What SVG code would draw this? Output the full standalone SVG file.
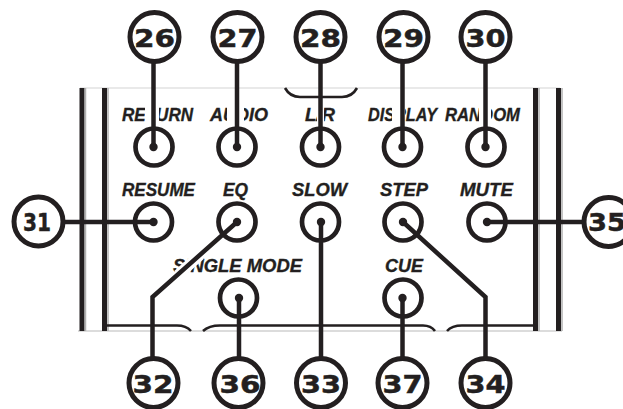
<svg xmlns="http://www.w3.org/2000/svg" width="623" height="409" viewBox="0 0 623 409">
<style>
.lbl{font-family:"Liberation Sans",Arial,sans-serif;font-weight:bold;font-style:italic;font-size:19px;fill:#231f20;stroke:#231f20;stroke-width:0.35}
.num{font-family:"DejaVu Sans","Liberation Sans",sans-serif;font-weight:bold;font-size:25px;fill:#231f20;stroke:#231f20;stroke-width:0.5}
.ring{fill:#fff;stroke:#231f20;stroke-width:5}
.btn{fill:#fff;stroke:#231f20;stroke-width:4.7}
.dot{fill:#231f20}
.con{fill:none;stroke:#231f20;stroke-width:4.5;stroke-linejoin:miter}
.frame{stroke:#231f20;stroke-width:5}
.shade{stroke:#b0b0b0;stroke-width:1.5}
.edge{fill:none;stroke:#231f20;stroke-width:2.6}
.halo{fill:#fff}
</style>
<rect width="623" height="409" fill="#fff"/>
<g id="panel">
<line x1="80" y1="88" x2="560" y2="88" stroke="#e2e2e2" stroke-width="1.5"/>
<line x1="78" y1="331" x2="562" y2="331" stroke="#d0d0d0" stroke-width="1.5"/>
<line class="frame" x1="82" y1="88" x2="82" y2="331"/>
<line class="frame" x1="104.5" y1="88" x2="104.5" y2="331"/>
<line class="frame" x1="535.5" y1="88" x2="535.5" y2="331"/>
<line class="frame" x1="558.5" y1="88" x2="558.5" y2="331"/>
<line class="shade" x1="85.5" y1="88" x2="85.5" y2="331"/>
<line class="shade" x1="108" y1="88" x2="108" y2="331"/>
<line class="shade" x1="539" y1="88" x2="539" y2="331"/>
<line class="shade" x1="562" y1="88" x2="562" y2="331"/>
<path class="edge" d="M285 88 Q290 97 300 97 H342 Q352 97 357 88"/>
<path class="edge" d="M104 325.5 H177 Q186 325.5 191 331 M203 331 Q209 325.5 220 325.5 H423 Q431 325.5 435 331 M447 331 Q452 325.5 462 325.5 H536"/>
</g>
<g id="labels">
<text class="lbl" x="122" y="120.5" textLength="71" lengthAdjust="spacingAndGlyphs">RETURN</text>
<text class="lbl" x="210" y="120.5" textLength="58" lengthAdjust="spacingAndGlyphs">AUDIO</text>
<text class="lbl" x="305" y="120.5" textLength="30" lengthAdjust="spacingAndGlyphs">L/R</text>
<text class="lbl" x="368" y="120.5" textLength="69" lengthAdjust="spacingAndGlyphs">DISPLAY</text>
<text class="lbl" x="445" y="120.5" textLength="75" lengthAdjust="spacingAndGlyphs">RANDOM</text>
<text class="lbl" x="122" y="195.5" textLength="73" lengthAdjust="spacingAndGlyphs">RESUME</text>
<text class="lbl" x="223" y="195.5" textLength="25" lengthAdjust="spacingAndGlyphs">EQ</text>
<text class="lbl" x="292" y="195.5" textLength="55" lengthAdjust="spacingAndGlyphs">SLOW</text>
<text class="lbl" x="380" y="195.5" textLength="48" lengthAdjust="spacingAndGlyphs">STEP</text>
<text class="lbl" x="460" y="195.5" textLength="53" lengthAdjust="spacingAndGlyphs">MUTE</text>
<text class="lbl" x="173" y="272" textLength="129" lengthAdjust="spacingAndGlyphs">SINGLE MODE</text>
<text class="lbl" x="385" y="272" textLength="38" lengthAdjust="spacingAndGlyphs">CUE</text>
<rect class="halo" x="145" y="103" width="14" height="20"/>
<rect class="halo" x="227" y="103" width="17" height="20"/>
<rect class="halo" x="317" y="103" width="7" height="20"/>
<rect class="halo" x="392" y="103" width="13" height="20"/>
<rect class="halo" x="479" y="103" width="12" height="20"/>
<path d="M178 275 L200 255" stroke="#fff" stroke-width="11"/>
</g>
<g id="buttons">
<circle class="btn" cx="154" cy="147" r="18.5"/>
<circle class="btn" cx="237" cy="147" r="18.5"/>
<circle class="btn" cx="320.5" cy="147" r="18.5"/>
<circle class="btn" cx="402.5" cy="147" r="18.5"/>
<circle class="btn" cx="486" cy="147" r="18.5"/>
<circle class="btn" cx="153.5" cy="222" r="18.5"/>
<circle class="btn" cx="237" cy="222" r="18.5"/>
<circle class="btn" cx="320.5" cy="222" r="18.5"/>
<circle class="btn" cx="403" cy="222" r="18.5"/>
<circle class="btn" cx="487" cy="222" r="18.5"/>
<circle class="btn" cx="238.5" cy="298" r="18.5"/>
<circle class="btn" cx="403" cy="298" r="18.5"/>
</g>
<g id="connectors">
<path class="con" d="M153.5 62 V147"/>
<path class="con" d="M237 62 V147"/>
<path class="con" d="M320.5 62 V147"/>
<path class="con" d="M402.5 62 V147"/>
<path class="con" d="M485.5 62 V147"/>
<path class="con" d="M64 222 H153.5"/>
<path class="con" d="M487 222 H583"/>
<path class="con" d="M152.5 358 V297 L237 222"/>
<path class="con" d="M239 298 V358"/>
<path class="con" d="M321 222 V358"/>
<path class="con" d="M402.5 298 V358"/>
<path class="con" d="M403 222 L485.5 297 V358"/>
<circle class="dot" cx="153.5" cy="147" r="4.2"/>
<circle class="dot" cx="237" cy="147" r="4.2"/>
<circle class="dot" cx="320.5" cy="147" r="4.2"/>
<circle class="dot" cx="402.5" cy="147" r="4.2"/>
<circle class="dot" cx="485.5" cy="147" r="4.2"/>
<circle class="dot" cx="153.5" cy="222" r="4.2"/>
<circle class="dot" cx="237" cy="222" r="4.2"/>
<circle class="dot" cx="321" cy="222" r="4.2"/>
<circle class="dot" cx="403" cy="222" r="4.2"/>
<circle class="dot" cx="487" cy="222" r="4.2"/>
<circle class="dot" cx="239" cy="298" r="4.2"/>
<circle class="dot" cx="402.5" cy="298" r="4.2"/>
</g>
<g id="n26"><circle class="ring" cx="154.5" cy="37" r="24.5"/><text class="num" x="154.5" y="46.5" text-anchor="middle" textLength="41" lengthAdjust="spacingAndGlyphs">26</text></g>
<g id="n27"><circle class="ring" cx="237.5" cy="37" r="24.5"/><text class="num" x="237.5" y="46.5" text-anchor="middle" textLength="40" lengthAdjust="spacingAndGlyphs">27</text></g>
<g id="n28"><circle class="ring" cx="320.5" cy="37" r="24.5"/><text class="num" x="320.5" y="46.5" text-anchor="middle" textLength="41" lengthAdjust="spacingAndGlyphs">28</text></g>
<g id="n29"><circle class="ring" cx="403.5" cy="37" r="24.5"/><text class="num" x="403.5" y="46.5" text-anchor="middle" textLength="41" lengthAdjust="spacingAndGlyphs">29</text></g>
<g id="n30"><circle class="ring" cx="485.5" cy="37" r="24.5"/><text class="num" x="485.5" y="46.5" text-anchor="middle" textLength="40" lengthAdjust="spacingAndGlyphs">30</text></g>
<g id="n31"><circle class="ring" cx="38.5" cy="221.5" r="24.5"/><text class="num" x="37" y="230.5" text-anchor="middle" textLength="28" lengthAdjust="spacingAndGlyphs">31</text></g>
<g id="n35"><circle class="ring" cx="608.5" cy="222" r="24.5"/><text class="num" x="607" y="231" text-anchor="middle" textLength="38" lengthAdjust="spacingAndGlyphs">35</text></g>
<g id="n32"><circle class="ring" cx="153.5" cy="383" r="24.5"/><text class="num" x="153" y="392.5" text-anchor="middle" textLength="41" lengthAdjust="spacingAndGlyphs">32</text></g>
<g id="n36"><circle class="ring" cx="238.5" cy="383" r="24.5"/><text class="num" x="240" y="392.5" text-anchor="middle" textLength="41" lengthAdjust="spacingAndGlyphs">36</text></g>
<g id="n33"><circle class="ring" cx="321" cy="383" r="24.5"/><text class="num" x="321" y="392.5" text-anchor="middle" textLength="40" lengthAdjust="spacingAndGlyphs">33</text></g>
<g id="n37"><circle class="ring" cx="402.5" cy="383" r="24.5"/><text class="num" x="402.5" y="392.5" text-anchor="middle" textLength="40" lengthAdjust="spacingAndGlyphs">37</text></g>
<g id="n34"><circle class="ring" cx="485.5" cy="383" r="24.5"/><text class="num" x="485.5" y="392.5" text-anchor="middle" textLength="40" lengthAdjust="spacingAndGlyphs">34</text></g>
</svg>
